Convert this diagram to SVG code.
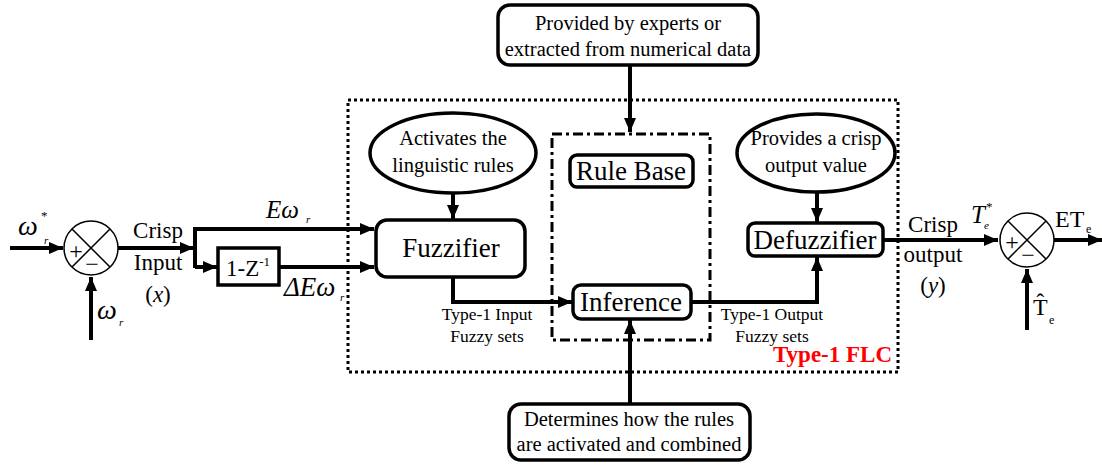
<svg xmlns="http://www.w3.org/2000/svg" width="1102" height="465" viewBox="0 0 1102 465">
<style>
.box{fill:#fff;stroke:#000;stroke-width:3.5}
.ln{fill:none;stroke:#000;stroke-width:4}
.thin{fill:none;stroke:#000;stroke-width:1.5}
.lbl{font-size:20.5px}
.io{font-size:23px}
.sm{font-size:17.5px}
.blk{font-size:27px}
.it{font-style:italic}
</style>
<defs>
<marker id="ah" viewBox="0 0 14 12" refX="14" refY="6" markerWidth="14" markerHeight="12" markerUnits="userSpaceOnUse" orient="auto">
<path d="M0,0 L14,6 L0,12 Z" fill="#000"/>
</marker>
</defs>
<g id="flc-frame">
<rect x="348" y="100" width="550" height="272" fill="none" stroke="#000" stroke-width="3" stroke-dasharray="3,3"/>
<text font-family="Liberation Serif" x="892" y="362" text-anchor="end" font-size="23" font-weight="bold" fill="#f00">Type-1 FLC</text>
</g>
<g id="rule-frame">
<rect x="552" y="134" width="158" height="206" fill="none" stroke="#000" stroke-width="3" stroke-dasharray="10,4,3,4"/>
</g>
<g id="connectors">
<path class="ln" d="M10,248 H63" marker-end="url(#ah)"/>
<path class="ln" d="M91,340 V277" marker-end="url(#ah)"/>
<path class="ln" d="M118,248 H193"/>
<path d="M180,242 L194,248 L180,254 Z" fill="#000"/>
<path class="ln" d="M195,228 V268"/>
<path class="ln" d="M193,229 H374" marker-end="url(#ah)"/>
<path class="ln" d="M195,267 H217" marker-end="url(#ah)"/>
<path class="ln" d="M279,267 H374" marker-end="url(#ah)"/>
<path class="ln" d="M453,193 V219" marker-end="url(#ah)"/>
<path class="ln" d="M453,277 V302 H572" marker-end="url(#ah)"/>
<path class="ln" d="M630,65 V132" marker-end="url(#ah)"/>
<path class="ln" d="M630,403 V320" marker-end="url(#ah)"/>
<path class="ln" d="M691,302 H817 V257" marker-end="url(#ah)"/>
<path class="ln" d="M817,192 V222" marker-end="url(#ah)"/>
<path class="ln" d="M883,240 H998" marker-end="url(#ah)"/>
<path class="ln" d="M1054,240 H1102" marker-end="url(#ah)"/>
<path class="ln" d="M1027,330 V269" marker-end="url(#ah)"/>
</g>
<g id="sum1">
<circle class="thin" cx="91" cy="248" r="27" fill="#fff"/>
<path class="thin" d="M72,229 L110,267 M110,229 L72,267"/>
<text font-family="Liberation Serif" x="76" y="259" text-anchor="middle" font-size="24">+</text>
<text font-family="Liberation Serif" x="92" y="272" text-anchor="middle" font-size="24">−</text>
</g>
<g id="sum2">
<circle class="thin" cx="1027" cy="240" r="27" fill="#fff"/>
<path class="thin" d="M1008,221 L1046,259 M1046,221 L1008,259"/>
<text font-family="Liberation Serif" x="1012" y="250" text-anchor="middle" font-size="24">+</text>
<text font-family="Liberation Serif" x="1028" y="263" text-anchor="middle" font-size="24">−</text>
</g>
<g id="labels-left">
<text font-family="Liberation Serif" x="18" y="235" font-size="28" class="it">ω</text>
<text font-family="Liberation Serif" x="44" y="244" font-size="11" class="it">r</text>
<text font-family="Liberation Serif" x="41" y="220" font-size="13">*</text>
<text font-family="Liberation Serif" x="97" y="319" font-size="28" class="it">ω</text>
<text font-family="Liberation Serif" x="119" y="326" font-size="11" class="it">r</text>
<text font-family="Liberation Serif" x="158" y="238" text-anchor="middle" class="io">Crisp</text>
<text font-family="Liberation Serif" x="158" y="270" text-anchor="middle" class="io">Input</text>
<text font-family="Liberation Serif" x="158" y="302" text-anchor="middle" class="io">(<tspan class="it">x</tspan>)</text>
<text font-family="Liberation Serif" x="266" y="218" font-size="25" class="it">Eω</text>
<text font-family="Liberation Serif" x="306" y="223" font-size="11" class="it">r</text>
<text font-family="Liberation Serif" x="284" y="296" font-size="27" class="it">ΔEω</text>
<text font-family="Liberation Serif" x="340" y="301" font-size="11" class="it">r</text>
</g>
<g id="delay">
<rect class="box" x="218" y="248" width="61" height="37"/>
<text font-family="Liberation Serif" x="248" y="276" text-anchor="middle" font-size="23">1-Z<tspan font-size="13" dy="-10">-1</tspan></text>
</g>
<g id="experts">
<rect class="box" x="498" y="5" width="260" height="60" rx="12"/>
<text font-family="Liberation Serif" x="628" y="30" text-anchor="middle" class="lbl">Provided by experts or</text>
<text font-family="Liberation Serif" x="628" y="56" text-anchor="middle" class="lbl">extracted from numerical data</text>
</g>
<g id="activates">
<ellipse class="box" cx="453" cy="153" rx="83" ry="40"/>
<text font-family="Liberation Serif" x="453" y="145" text-anchor="middle" class="lbl">Activates the</text>
<text font-family="Liberation Serif" x="453" y="172" text-anchor="middle" class="lbl">linguistic rules</text>
</g>
<g id="fuzzifier">
<rect class="box" x="376" y="220" width="149" height="57" rx="11"/>
<text font-family="Liberation Serif" x="451" y="257" text-anchor="middle" class="blk">Fuzzifier</text>
</g>
<g id="rulebase">
<rect class="box" x="570" y="155" width="123" height="32" rx="7"/>
<text font-family="Liberation Serif" x="631" y="180" text-anchor="middle" class="blk">Rule Base</text>
</g>
<g id="inference">
<rect class="box" x="573" y="285" width="118" height="34" rx="8"/>
<text font-family="Liberation Serif" x="631" y="311" text-anchor="middle" class="blk">Inference</text>
</g>
<g id="crisp-value">
<ellipse class="box" cx="816" cy="153" rx="79" ry="39"/>
<text font-family="Liberation Serif" x="816" y="145" text-anchor="middle" class="lbl">Provides a crisp</text>
<text font-family="Liberation Serif" x="816" y="172" text-anchor="middle" class="lbl">output value</text>
</g>
<g id="defuzzifier">
<rect class="box" x="748" y="223" width="135" height="33" rx="7"/>
<text font-family="Liberation Serif" x="815" y="249" text-anchor="middle" class="blk">Defuzzifier</text>
</g>
<g id="determines">
<rect class="box" x="509" y="404" width="241" height="56" rx="12"/>
<text font-family="Liberation Serif" x="629" y="426" text-anchor="middle" class="lbl">Determines how the rules</text>
<text font-family="Liberation Serif" x="629" y="451" text-anchor="middle" class="lbl">are activated and combined</text>
</g>
<g id="fuzzy-labels">
<text font-family="Liberation Serif" x="487" y="320" text-anchor="middle" class="sm">Type-1 Input</text>
<text font-family="Liberation Serif" x="487" y="342" text-anchor="middle" class="sm">Fuzzy sets</text>
<text font-family="Liberation Serif" x="772" y="320" text-anchor="middle" class="sm">Type-1 Output</text>
<text font-family="Liberation Serif" x="772" y="342" text-anchor="middle" class="sm">Fuzzy sets</text>
</g>
<g id="labels-right">
<text font-family="Liberation Serif" x="933" y="232" text-anchor="middle" class="io">Crisp</text>
<text font-family="Liberation Serif" x="933" y="262" text-anchor="middle" class="io">output</text>
<text font-family="Liberation Serif" x="933" y="293" text-anchor="middle" class="io">(<tspan class="it">y</tspan>)</text>
<text font-family="Liberation Serif" x="971" y="223" font-size="25" class="it">T</text>
<text font-family="Liberation Serif" x="984" y="229" font-size="11" class="it">e</text>
<text font-family="Liberation Serif" x="986" y="211" font-size="13">*</text>
<text font-family="Liberation Serif" x="1055" y="227" font-size="24">ET</text>
<text font-family="Liberation Serif" x="1086" y="233" font-size="12">e</text>
<text font-family="Liberation Serif" x="1033" y="315" font-size="24">T̂</text>
<text font-family="Liberation Serif" x="1049" y="324" font-size="12">e</text>
</g>
</svg>
